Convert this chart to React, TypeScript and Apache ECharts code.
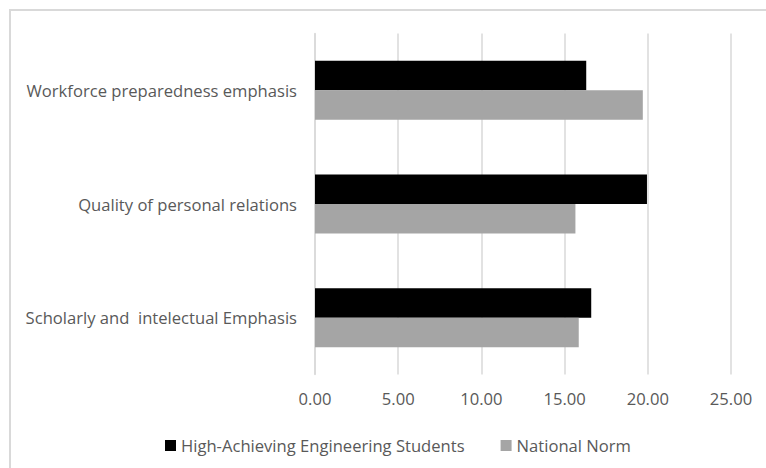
import React, { useEffect, useRef } from "react";
import * as echarts from "echarts";

// Categories listed bottom-to-top (category y axis starts at the bottom)
const categories = [
  "Scholarly and  intelectual Emphasis",
  "Quality of personal relations",
  "Workforce preparedness emphasis",
];
const highAchieving = [16.6, 19.95, 16.3];
const nationalNorm = [15.85, 15.65, 19.7];
const xTicks = { min: 0, max: 25, interval: 5 };

const FONT = "'Open Sans', sans-serif";
const FONT_SIZE = 16.6;
const TEXT = "#595959";
const GRID_LINE = "#d9d9d9";

export default function App() {
  const ref = useRef<HTMLDivElement>(null);

  useEffect(() => {
    if (!ref.current) return;
    const chart = echarts.init(ref.current, undefined, { renderer: "svg" });
    chart.setOption({
      animation: false,
      backgroundColor: "#ffffff",
      textStyle: { fontFamily: FONT },
      graphic: [
        {
          type: "rect",
          shape: { x: 10, y: 10, width: 800, height: 500 },
          style: { fill: "none", stroke: GRID_LINE, lineWidth: 2 },
          silent: true,
        },
      ],
      grid: { left: 315, right: 35, top: 33.5, height: 341, containLabel: false },
      legend: {
        data: ["High-Achieving Engineering Students", "National Norm"],
        left: 160,
        top: 432,
        itemWidth: 11,
        itemHeight: 11,
        itemGap: 36,
        icon: "rect",
        textStyle: { color: TEXT, fontSize: FONT_SIZE, fontFamily: FONT },
      },
      xAxis: {
        type: "value",
        min: xTicks.min,
        max: xTicks.max,
        interval: xTicks.interval,
        axisLine: { show: false },
        axisTick: { show: false },
        splitLine: { show: true, lineStyle: { color: GRID_LINE, width: 1.5 } },
        axisLabel: {
          color: TEXT,
          fontSize: FONT_SIZE,
          fontFamily: FONT,
          margin: 15,
          formatter: (v: number) => v.toFixed(2),
        },
      },
      yAxis: {
        type: "category",
        data: categories,
        axisLine: { show: true, lineStyle: { color: GRID_LINE, width: 1.5 } },
        axisTick: { show: false },
        axisLabel: { color: TEXT, fontSize: FONT_SIZE, fontFamily: FONT, margin: 18 },
      },
      series: [
        {
          name: "High-Achieving Engineering Students",
          type: "bar",
          data: highAchieving,
          barWidth: 29.5,
          barGap: "0%",
          itemStyle: { color: "#000000" },
        },
        {
          name: "National Norm",
          type: "bar",
          data: nationalNorm,
          barWidth: 29.5,
          barGap: "0%",
          itemStyle: { color: "#a5a5a5" },
        },
      ],
    });
    return () => chart.dispose();
  }, []);

  return (
    <div
      ref={ref}
      style={{ position: "fixed", left: 0, top: 0, width: 766, height: 468 }}
    />
  );
}
